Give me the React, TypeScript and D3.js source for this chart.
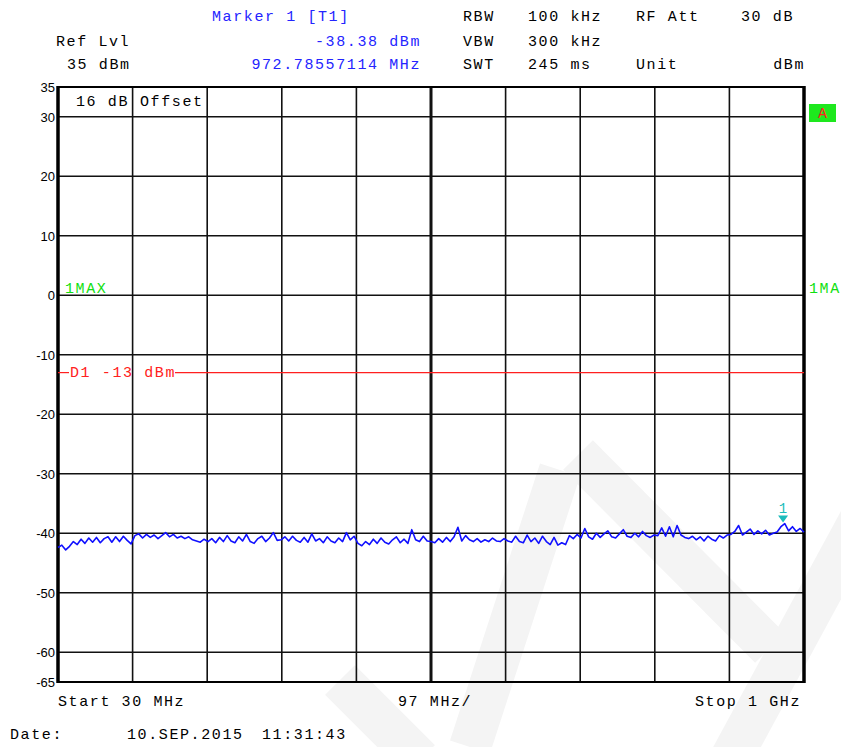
import * as d3 from "d3";
import { useEffect, useRef } from "react";

// sweep settings
const startMHz = 30;
const stopMHz = 1000;
const stepMHz = 5;
const refLevel = 35;
const bottomLevel = -65;

// trace 1 (max hold), one value per 5 MHz from 30 MHz to 1 GHz
const traceLevels = [
  -42.4, -42.0, -42.8, -42.2, -41.4, -41.9, -41.0, -41.7, -40.8, -41.5, -40.7, -41.6, -40.9, -40.6, -41.5, -40.6, -41.4, -40.5, -41.2, -41.8,
  -40.4, -40.1, -40.8, -40.2, -40.7, -40.3, -40.9, -40.4, -39.9, -40.6, -40.2, -40.8, -40.5, -40.9, -40.6, -41.1, -41.3, -41.5, -41.0,
  -41.4, -40.9, -41.6, -40.7, -41.4, -40.4, -41.3, -41.6, -40.6, -41.3, -40.2, -41.4, -41.7, -40.9, -40.5, -41.4, -40.8, -39.9, -41.2,
  -41.1, -40.6, -41.3, -40.5, -41.2, -41.5, -40.7, -41.5, -40.1, -41.3, -40.9, -41.6, -40.6, -41.3, -41.6, -40.8, -41.4, -39.9, -41.1, -40.5,
  -41.7, -42.1, -41.4, -41.9, -41.0, -41.7, -40.8, -41.5, -41.8, -41.1, -40.6, -41.6, -41.0, -41.7, -39.4, -41.1, -41.4, -40.5, -41.3,
  -41.4, -41.6, -40.9, -41.5, -40.7, -41.4, -40.6, -39.0, -41.3, -40.4, -41.1, -41.4, -40.9, -41.5, -41.1, -41.4, -40.8, -41.3, -41.4, -40.9,
  -41.3, -41.5, -40.5, -41.4, -41.6, -40.3, -41.4, -40.8, -41.7, -40.5, -41.4, -41.9, -40.7, -42.0, -41.6, -41.9, -40.4, -40.9, -40.2,
  -40.8, -39.2, -40.6, -41.0, -40.0, -40.7, -40.1, -39.6, -40.6, -40.8, -40.1, -39.4, -40.5, -40.7, -40.0, -40.6, -39.7, -40.4, -40.7, -40.3,
  -40.4, -39.1, -40.5, -38.9, -40.6, -38.7, -40.3, -40.7, -40.9, -40.5, -41.1, -40.6, -41.3, -40.5, -41.0, -41.3, -40.4, -40.8, -40.3,
  -40.2, -39.7, -38.7, -40.3, -39.8, -39.3, -40.2, -39.6, -40.1, -39.5, -40.3, -40.0, -39.8, -38.9, -38.38, -39.6, -38.9, -39.7, -39.2, -39.8,
];

const yTicks = [35, 30, 20, 10, 0, -10, -20, -30, -40, -50, -60, -65];
const gridLevels = [30, 20, 10, 0, -10, -20, -30, -40, -50, -60];
const xDivisions = 10;
const displayLine = -13;
const markerFreq = 972.78557114;
const markerLevel = -38.38;

const font = "'Liberation Mono', 'DejaVu Sans Mono', monospace";

export default function App() {
  const svgRef = useRef<SVGSVGElement | null>(null);

  useEffect(() => {
    const svg = d3.select(svgRef.current);
    svg.selectAll("*").remove();

    const width = 841;
    const height = 747;
    const margin = { top: 87, right: 37, bottom: 65, left: 58 };

    const x = d3
      .scaleLinear()
      .domain([startMHz, stopMHz])
      .range([margin.left, width - margin.right]);
    const y = d3
      .scaleLinear()
      .domain([bottomLevel, refLevel])
      .range([height - margin.bottom, margin.top]);

    svg.append("rect").attr("width", width).attr("height", height).attr("fill", "#fff");

    // faint watermark in the background
    const wm = svg.append("g").attr("stroke", "#f4f4f4").attr("stroke-width", 42).attr("fill", "none");
    wm.append("path").attr("d", "M578,455 L770,648");
    wm.append("path").attr("d", "M560,470 L470,747");
    wm.append("path").attr("d", "M860,520 L730,760");
    wm.append("path").attr("d", "M340,680 L420,760");

    const addText = (
      t: string,
      px: number,
      py: number,
      color = "#000",
      anchor = "start",
    ) =>
      svg
        .append("text")
        .attr("x", px)
        .attr("y", py)
        .attr("fill", color)
        .attr("text-anchor", anchor)
        .style("font-family", font)
        .style("font-size", "15px")
        .style("letter-spacing", "1.6px")
        .text(t);

    // header block
    const blue = "#2424ff";
    addText("Marker 1 [T1]", 212, 21, blue);
    addText("Ref Lvl", 56, 46);
    addText("-38.38 dBm", 421, 46, blue, "end");
    addText("35 dBm", 67, 69);
    addText("972.78557114 MHz", 421, 69, blue, "end");
    addText("RBW", 463, 21);
    addText("100 kHz", 528, 21);
    addText("RF Att", 636, 21);
    addText("30 dB", 794, 21, "#000", "end");
    addText("VBW", 463, 46);
    addText("300 kHz", 528, 46);
    addText("SWT", 463, 69);
    addText("245 ms", 528, 69);
    addText("Unit", 636, 69);
    addText("dBm", 805, 69, "#000", "end");
    addText("Start 30 MHz", 58, 706);
    addText("97 MHz/", 398, 706);
    addText("Stop 1 GHz", 801, 706, "#000", "end");
    addText("Date:", 10, 739);
    addText("10.SEP.2015", 127, 739);
    addText("11:31:43", 262, 739);

    // grid
    const grid = svg.append("g").attr("stroke", "#111").attr("stroke-width", 1.6);
    grid
      .selectAll("line.h")
      .data(gridLevels)
      .enter()
      .append("line")
      .attr("x1", x(startMHz))
      .attr("x2", x(stopMHz))
      .attr("y1", (d) => y(d))
      .attr("y2", (d) => y(d));
    const divStep = (stopMHz - startMHz) / xDivisions;
    grid
      .selectAll("line.v")
      .data(d3.range(1, xDivisions))
      .enter()
      .append("line")
      .attr("x1", (d) => x(startMHz + d * divStep))
      .attr("x2", (d) => x(startMHz + d * divStep))
      .attr("y1", y(refLevel))
      .attr("y2", y(bottomLevel))
      .attr("stroke-width", (d) => (d === 5 ? 3 : 1.6));

    // frame
    svg
      .append("rect")
      .attr("x", x(startMHz))
      .attr("y", y(refLevel))
      .attr("width", x(stopMHz) - x(startMHz))
      .attr("height", y(bottomLevel) - y(refLevel))
      .attr("fill", "none")
      .attr("stroke", "#000")
      .attr("stroke-width", 2);
    svg
      .selectAll("line.side")
      .data([startMHz, stopMHz])
      .enter()
      .append("line")
      .attr("x1", (d) => x(d))
      .attr("x2", (d) => x(d))
      .attr("y1", y(refLevel) - 1)
      .attr("y2", y(bottomLevel) + 1)
      .attr("stroke", "#000")
      .attr("stroke-width", 3.5);

    // y tick labels
    svg
      .append("g")
      .style("font-family", "'Liberation Sans', Arial, sans-serif")
      .style("font-size", "13px")
      .selectAll("text")
      .data(yTicks)
      .enter()
      .append("text")
      .attr("x", 55)
      .attr("y", (d) => y(d) + 5)
      .attr("text-anchor", "end")
      .text((d) => String(d));

    // offset box text
    addText("16 dB", 129, 106, "#000", "end");
    addText("Offset", 140, 106);

    // trace labels
    addText("1MAX", 65, 293, "#10e010");
    addText("1MA", 809, 293, "#10e010");

    // "A" trace indicator
    svg
      .append("rect")
      .attr("x", 809)
      .attr("y", 104)
      .attr("width", 27)
      .attr("height", 18)
      .attr("fill", "#1ee81e");
    addText("A", 818, 118, "#ff2020");

    // display line D1
    const red = "#ff2020";
    svg
      .append("line")
      .attr("x1", x(startMHz))
      .attr("x2", 69)
      .attr("y1", y(displayLine))
      .attr("y2", y(displayLine))
      .attr("stroke", red)
      .attr("stroke-width", 1.2);
    svg
      .append("line")
      .attr("x1", 175)
      .attr("x2", x(stopMHz))
      .attr("y1", y(displayLine))
      .attr("y2", y(displayLine))
      .attr("stroke", red)
      .attr("stroke-width", 1.2);
    addText("D1 -13 dBm", 70, 377, red);

    // trace
    const line = d3
      .line<number>()
      .x((d, i) => x(startMHz + i * stepMHz))
      .y((d) => y(d));
    svg
      .append("path")
      .datum(traceLevels)
      .attr("fill", "none")
      .attr("stroke", "#1010ff")
      .attr("stroke-width", 1.6)
      .attr("stroke-linejoin", "round")
      .attr("d", line);

    // marker 1
    const mx = x(markerFreq);
    const my = y(markerLevel);
    const cyan = "#1cbcbc";
    svg
      .append("path")
      .attr("d", `M${mx - 5},${my - 8} L${mx + 5},${my - 8} L${mx},${my - 1} Z`)
      .attr("fill", cyan);
    svg
      .append("text")
      .attr("x", mx)
      .attr("y", my - 11)
      .attr("text-anchor", "middle")
      .attr("fill", cyan)
      .style("font-family", font)
      .style("font-size", "14px")
      .text("1");
  }, []);

  return (
    <svg
      ref={svgRef}
      width={841}
      height={747}
      style={{ position: "absolute", left: 0, top: 0 }}
    ></svg>
  );
}
